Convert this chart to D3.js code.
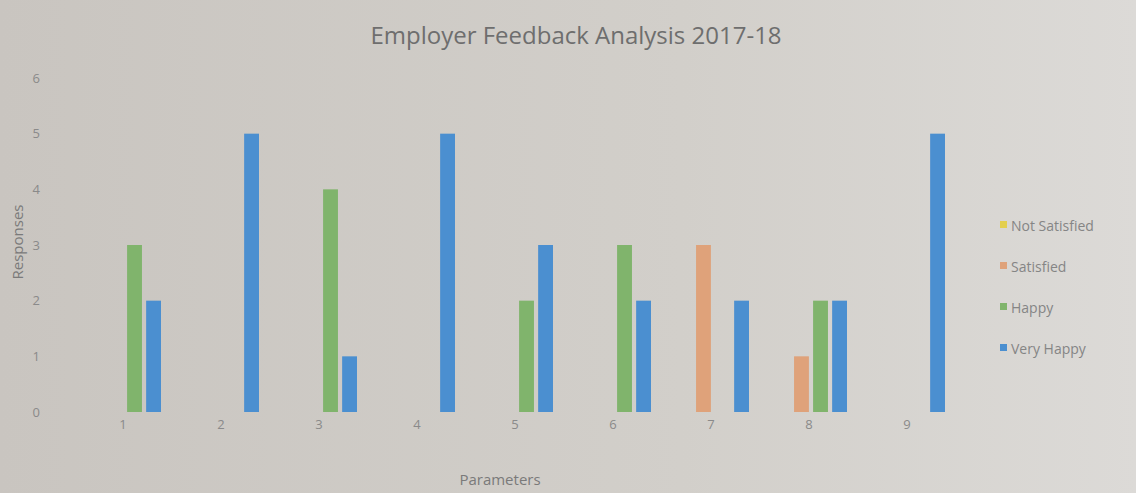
<!DOCTYPE html>
<html>
<head>
<meta charset="utf-8">
<script src="https://cdn.jsdelivr.net/npm/d3@7"></script>
<style>
  body { margin: 0; background: #cfcbc6; }
  svg { display: block; font-family: "Open Sans", sans-serif; }
</style>
</head>
<body>
<svg width="1136" height="493"></svg>
<script>
var categories = ['1', '2', '3', '4', '5', '6', '7', '8', '9'];
var seriesNames = ['Not Satisfied', 'Satisfied', 'Happy', 'Very Happy'];
var notSatisfied = [0, 0, 0, 0, 0, 0, 0, 0, 0];
var satisfied = [0, 0, 0, 0, 0, 0, 3, 1, 0];
var happy = [3, 0, 4, 0, 2, 3, 0, 2, 0];
var veryHappy = [2, 5, 1, 5, 3, 2, 2, 2, 5];
var yTicks = [0, 1, 2, 3, 4, 5, 6];
var colors = ['#e3cf4f', '#dfa27a', '#80b46c', '#4b8fd0'];

var svg = d3.select('svg'),
  width = 1136,
  height = 493;

// soft photo-like background
var defs = svg.append('defs');
var grad = defs.append('linearGradient').attr('id', 'bg').attr('x1', 0).attr('x2', 1).attr('y1', 0).attr('y2', 0);
grad.append('stop').attr('offset', '0%').attr('stop-color', '#c9c5c0');
grad.append('stop').attr('offset', '60%').attr('stop-color', '#d2cfca');
grad.append('stop').attr('offset', '100%').attr('stop-color', '#dcdad7');
svg.append('rect').attr('width', width).attr('height', height).attr('fill', 'url(#bg)');

var allSeries = [notSatisfied, satisfied, happy, veryHappy];
var table = categories.map(function (c, i) {
  var row = { cat: c };
  seriesNames.forEach(function (s, j) { row[s] = allSeries[j][i]; });
  return row;
});

var x0 = d3.scaleBand().domain(categories).range([76, 958]).padding(0);
var x1 = d3.scaleBand().domain(seriesNames).range([0, 72]).paddingInner(0.22);
var y = d3.scaleLinear().domain([0, 6]).range([412, 78]);
var color = d3.scaleOrdinal().domain(seriesNames).range(colors);

svg.append('text')
  .attr('x', 576).attr('y', 44)
  .attr('text-anchor', 'middle')
  .attr('fill', '#6e6e6e')
  .style('font-size', '24px')
  .text('Employer Feedback Analysis 2017-18');

// y axis labels only
var yAxis = d3.axisLeft(y).tickValues(yTicks).tickFormat(d3.format('d')).tickSize(0).tickPadding(0);
var gy = svg.append('g').attr('transform', 'translate(40,0)').call(yAxis);
gy.select('.domain').remove();
gy.selectAll('text').attr('fill', '#8a8a8a').style('font-size', '13px').style('font-family', '"Open Sans", sans-serif');

// x axis labels only
var xAxis = d3.axisBottom(x0).tickSize(0).tickPadding(0);
var gx = svg.append('g').attr('transform', 'translate(-2,420)').call(xAxis);
gx.select('.domain').remove();
gx.selectAll('text').attr('fill', '#8a8a8a').style('font-size', '13px').style('font-family', '"Open Sans", sans-serif');

svg.append('text')
  .attr('transform', 'translate(23,242) rotate(-90)')
  .attr('text-anchor', 'middle')
  .attr('fill', '#7a7a7a')
  .style('font-size', '15px')
  .text('Responses');

svg.append('text')
  .attr('x', 500).attr('y', 485)
  .attr('text-anchor', 'middle')
  .attr('fill', '#7a7a7a')
  .style('font-size', '15px')
  .text('Parameters');

var groups = svg.append('g')
  .selectAll('g')
  .data(table)
  .enter()
  .append('g')
  .attr('transform', function (d) { return 'translate(' + (x0(d.cat) + (x0.bandwidth() - 72) / 2) + ',0)'; });

groups.selectAll('rect')
  .data(function (d) { return seriesNames.map(function (s) { return { key: s, value: d[s] }; }); })
  .enter()
  .append('rect')
  .filter(function (d) { return d.value > 0; })
  .attr('x', function (d) { return x1(d.key); })
  .attr('y', function (d) { return y(d.value); })
  .attr('width', x1.bandwidth())
  .attr('height', function (d) { return y(0) - y(d.value); })
  .attr('fill', function (d) { return color(d.key); });

var legend = svg.append('g')
  .selectAll('g')
  .data(seriesNames)
  .enter()
  .append('g')
  .attr('transform', function (d, i) { return 'translate(1000,' + (226 + i * 41) + ')'; });

legend.append('rect')
  .attr('x', 0).attr('y', -5)
  .attr('width', 7).attr('height', 7)
  .attr('fill', function (d) { return color(d); });

legend.append('text')
  .attr('x', 11).attr('y', 0)
  .attr('dy', '0.35em')
  .attr('fill', '#858585')
  .style('font-size', '14px')
  .text(function (d) { return d; });
</script>
</body>
</html>
